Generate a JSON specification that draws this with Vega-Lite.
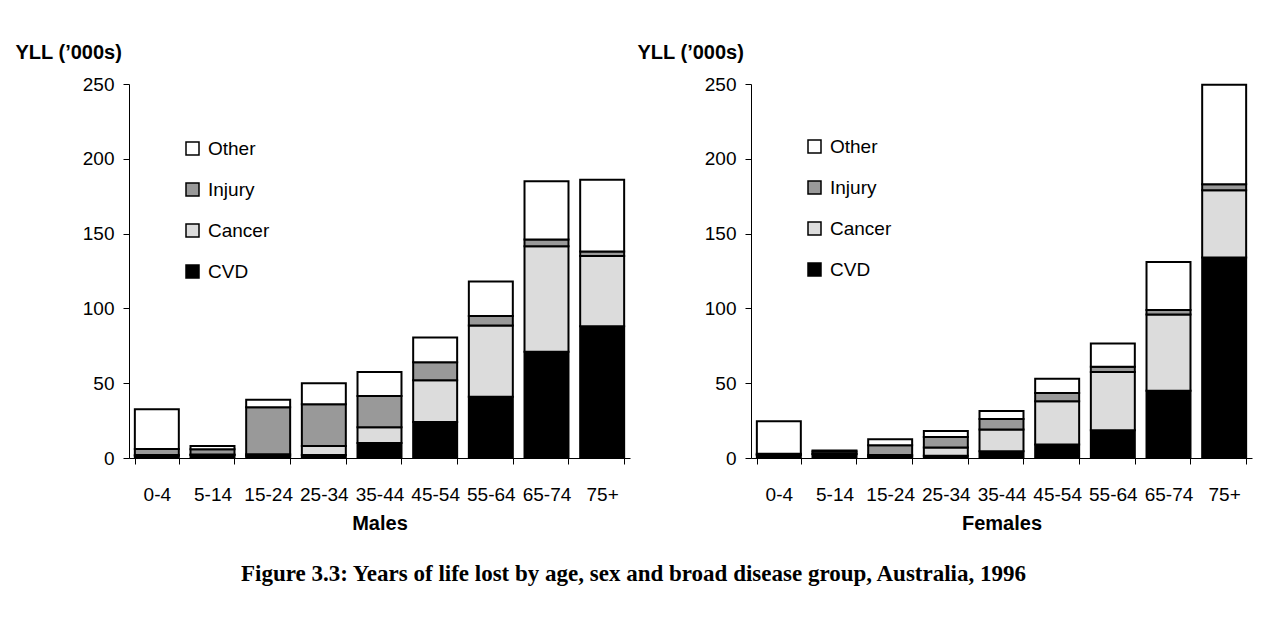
{
  "$schema": "https://vega.github.io/schema/vega-lite/v6.json",
  "background": "white",
  "padding": {"left": 15, "top": 42, "right": 5, "bottom": 5},
  "datasets": {
    "yll": [
      {"sex": "Males", "age": "0-4", "cause": "CVD", "yll": 1.5},
      {"sex": "Males", "age": "0-4", "cause": "Cancer", "yll": 0.5},
      {"sex": "Males", "age": "0-4", "cause": "Injury", "yll": 4},
      {"sex": "Males", "age": "0-4", "cause": "Other", "yll": 26.6},
      {"sex": "Males", "age": "5-14", "cause": "CVD", "yll": 2},
      {"sex": "Males", "age": "5-14", "cause": "Cancer", "yll": 0.3},
      {"sex": "Males", "age": "5-14", "cause": "Injury", "yll": 3.5},
      {"sex": "Males", "age": "5-14", "cause": "Other", "yll": 2.2},
      {"sex": "Males", "age": "15-24", "cause": "CVD", "yll": 1.5},
      {"sex": "Males", "age": "15-24", "cause": "Cancer", "yll": 1},
      {"sex": "Males", "age": "15-24", "cause": "Injury", "yll": 31.5},
      {"sex": "Males", "age": "15-24", "cause": "Other", "yll": 5},
      {"sex": "Males", "age": "25-34", "cause": "CVD", "yll": 2},
      {"sex": "Males", "age": "25-34", "cause": "Cancer", "yll": 6},
      {"sex": "Males", "age": "25-34", "cause": "Injury", "yll": 28},
      {"sex": "Males", "age": "25-34", "cause": "Other", "yll": 14},
      {"sex": "Males", "age": "35-44", "cause": "CVD", "yll": 10},
      {"sex": "Males", "age": "35-44", "cause": "Cancer", "yll": 10.5},
      {"sex": "Males", "age": "35-44", "cause": "Injury", "yll": 21},
      {"sex": "Males", "age": "35-44", "cause": "Other", "yll": 16},
      {"sex": "Males", "age": "45-54", "cause": "CVD", "yll": 24},
      {"sex": "Males", "age": "45-54", "cause": "Cancer", "yll": 28},
      {"sex": "Males", "age": "45-54", "cause": "Injury", "yll": 12},
      {"sex": "Males", "age": "45-54", "cause": "Other", "yll": 16.5},
      {"sex": "Males", "age": "55-64", "cause": "CVD", "yll": 41},
      {"sex": "Males", "age": "55-64", "cause": "Cancer", "yll": 47.5},
      {"sex": "Males", "age": "55-64", "cause": "Injury", "yll": 6.5},
      {"sex": "Males", "age": "55-64", "cause": "Other", "yll": 23},
      {"sex": "Males", "age": "65-74", "cause": "CVD", "yll": 71},
      {"sex": "Males", "age": "65-74", "cause": "Cancer", "yll": 70.5},
      {"sex": "Males", "age": "65-74", "cause": "Injury", "yll": 4.5},
      {"sex": "Males", "age": "65-74", "cause": "Other", "yll": 39},
      {"sex": "Males", "age": "75+", "cause": "CVD", "yll": 88},
      {"sex": "Males", "age": "75+", "cause": "Cancer", "yll": 47},
      {"sex": "Males", "age": "75+", "cause": "Injury", "yll": 3},
      {"sex": "Males", "age": "75+", "cause": "Other", "yll": 48},
      {"sex": "Females", "age": "0-4", "cause": "CVD", "yll": 2},
      {"sex": "Females", "age": "0-4", "cause": "Cancer", "yll": 0.3},
      {"sex": "Females", "age": "0-4", "cause": "Injury", "yll": 0.5},
      {"sex": "Females", "age": "0-4", "cause": "Other", "yll": 21.7},
      {"sex": "Females", "age": "5-14", "cause": "CVD", "yll": 2.5},
      {"sex": "Females", "age": "5-14", "cause": "Cancer", "yll": 0.3},
      {"sex": "Females", "age": "5-14", "cause": "Injury", "yll": 1.5},
      {"sex": "Females", "age": "5-14", "cause": "Other", "yll": 0.7},
      {"sex": "Females", "age": "15-24", "cause": "CVD", "yll": 1},
      {"sex": "Females", "age": "15-24", "cause": "Cancer", "yll": 1},
      {"sex": "Females", "age": "15-24", "cause": "Injury", "yll": 6.5},
      {"sex": "Females", "age": "15-24", "cause": "Other", "yll": 4},
      {"sex": "Females", "age": "25-34", "cause": "CVD", "yll": 1.5},
      {"sex": "Females", "age": "25-34", "cause": "Cancer", "yll": 5.5},
      {"sex": "Females", "age": "25-34", "cause": "Injury", "yll": 7},
      {"sex": "Females", "age": "25-34", "cause": "Other", "yll": 4},
      {"sex": "Females", "age": "35-44", "cause": "CVD", "yll": 4.5},
      {"sex": "Females", "age": "35-44", "cause": "Cancer", "yll": 14.5},
      {"sex": "Females", "age": "35-44", "cause": "Injury", "yll": 7},
      {"sex": "Females", "age": "35-44", "cause": "Other", "yll": 5.5},
      {"sex": "Females", "age": "45-54", "cause": "CVD", "yll": 9},
      {"sex": "Females", "age": "45-54", "cause": "Cancer", "yll": 29},
      {"sex": "Females", "age": "45-54", "cause": "Injury", "yll": 5.5},
      {"sex": "Females", "age": "45-54", "cause": "Other", "yll": 9.5},
      {"sex": "Females", "age": "55-64", "cause": "CVD", "yll": 18.5},
      {"sex": "Females", "age": "55-64", "cause": "Cancer", "yll": 39},
      {"sex": "Females", "age": "55-64", "cause": "Injury", "yll": 3.5},
      {"sex": "Females", "age": "55-64", "cause": "Other", "yll": 15.5},
      {"sex": "Females", "age": "65-74", "cause": "CVD", "yll": 45},
      {"sex": "Females", "age": "65-74", "cause": "Cancer", "yll": 51},
      {"sex": "Females", "age": "65-74", "cause": "Injury", "yll": 3},
      {"sex": "Females", "age": "65-74", "cause": "Other", "yll": 32},
      {"sex": "Females", "age": "75+", "cause": "CVD", "yll": 134},
      {"sex": "Females", "age": "75+", "cause": "Cancer", "yll": 45},
      {"sex": "Females", "age": "75+", "cause": "Injury", "yll": 4},
      {"sex": "Females", "age": "75+", "cause": "Other", "yll": 66.5}
    ]
  },
  "title": {
    "text": "Figure 3.3: Years of life lost by age, sex and broad disease group, Australia, 1996",
    "orient": "bottom",
    "anchor": "middle",
    "font": "Liberation Serif",
    "fontSize": 23,
    "fontWeight": "bold",
    "color": "black",
    "offset": 30
  },
  "config": {
    "font": "Liberation Sans",
    "view": {"stroke": null},
    "axis": {
      "domainColor": "black",
      "tickColor": "black",
      "labelColor": "black",
      "titleColor": "black",
      "labelFont": "Liberation Sans",
      "titleFont": "Liberation Sans",
      "labelFontSize": 19,
      "titleFontSize": 20,
      "titleFontWeight": "bold",
      "tickSize": 6,
      "grid": false
    },
    "legend": {
      "labelFont": "Liberation Sans",
      "labelFontSize": 19,
      "labelColor": "black",
      "symbolType": "square",
      "symbolSize": 169,
      "symbolStrokeColor": "black",
      "symbolStrokeWidth": 1.5,
      "rowPadding": 21,
      "labelOffset": 6,
      "padding": 0
    }
  },
  "spacing": 7,
  "resolve": {"scale": {"fill": "independent"}, "legend": {"fill": "independent"}},
  "hconcat": [
    {
      "width": 501,
      "height": 374,
      "data": {"name": "yll"},
      "transform": [{"filter": "datum.sex === 'Males'"}],
      "mark": {"type": "bar", "stroke": "black", "strokeWidth": 2},
      "encoding": {
        "x": {
          "field": "age", "type": "nominal",
          "sort": ["0-4", "5-14", "15-24", "25-34", "35-44", "45-54", "55-64", "65-74", "75+"],
          "scale": {"paddingInner": 0.21, "paddingOuter": 0.105},
          "axis": {"title": "Males", "labelAngle": 0, "tickBand": "extent", "labelPadding": 21, "titlePadding": 9}
        },
        "y": {
          "field": "yll", "type": "quantitative", "stack": "zero",
          "scale": {"domain": [0, 250], "nice": false},
          "axis": {"title": "YLL (’000s)", "values": [0, 50, 100, 150, 200, 250], "titleAngle": 0, "titleX": -114, "titleY": -32, "titleAlign": "left", "titleBaseline": "middle", "labelPadding": 9}
        },
        "fill": {
          "field": "cause", "type": "nominal",
          "scale": {"domain": ["Other", "Injury", "Cancer", "CVD"], "range": ["#ffffff", "#999999", "#dcdcdc", "#000000"]},
          "legend": {"title": null, "orient": "none", "legendX": 54, "legendY": 55}
        },
        "order": {"field": "cause", "sort": "ascending"}
      }
    },
    {
      "width": 501,
      "height": 374,
      "data": {"name": "yll"},
      "transform": [{"filter": "datum.sex === 'Females'"}],
      "mark": {"type": "bar", "stroke": "black", "strokeWidth": 2},
      "encoding": {
        "x": {
          "field": "age", "type": "nominal",
          "sort": ["0-4", "5-14", "15-24", "25-34", "35-44", "45-54", "55-64", "65-74", "75+"],
          "scale": {"paddingInner": 0.21, "paddingOuter": 0.105},
          "axis": {"title": "Females", "labelAngle": 0, "tickBand": "extent", "labelPadding": 21, "titlePadding": 9}
        },
        "y": {
          "field": "yll", "type": "quantitative", "stack": "zero",
          "scale": {"domain": [0, 250], "nice": false},
          "axis": {"title": "YLL (’000s)", "values": [0, 50, 100, 150, 200, 250], "titleAngle": 0, "titleX": -114, "titleY": -32, "titleAlign": "left", "titleBaseline": "middle", "labelPadding": 9}
        },
        "fill": {
          "field": "cause", "type": "nominal",
          "scale": {"domain": ["Other", "Injury", "Cancer", "CVD"], "range": ["#ffffff", "#999999", "#dcdcdc", "#000000"]},
          "legend": {"title": null, "orient": "none", "legendX": 54, "legendY": 53}
        },
        "order": {"field": "cause", "sort": "ascending"}
      }
    }
  ]
}
